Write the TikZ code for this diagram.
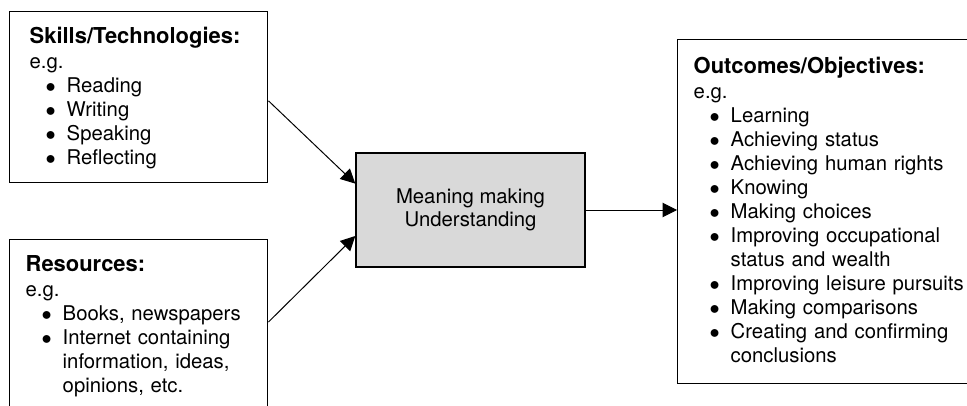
\documentclass[tikz,border=0pt]{standalone}
\usepackage{fontspec}
\setmainfont{TeX Gyre Heros}
\usepackage{tikz}
\usetikzlibrary{arrows.meta}

\definecolor{midgray}{RGB}{217,217,217}
\newcommand{\bitem}[1]{\hspace*{0.4cm}\makebox[0.525cm][l]{$\bullet$}#1}
\newcommand{\bwrap}[1]{\hspace*{0.925cm}#1}
\newcommand{\boxhead}[1]{{\fontsize{15.6}{17.07}\selectfont\bfseries #1}}

\begin{document}
\begin{tikzpicture}[
        x=0.025cm, y=-0.025cm,
        box/.style={
            rectangle,
            draw,
            line width=1pt,
            anchor=north west,
            align=left,
            inner xsep=0.4cm,
            inner ysep=0.4cm,
            text height=0.4cm,
            font=\fontsize{14.44}{17.07}\selectfont
        },
        midbox/.style={
            rectangle,
            draw,
            line width=1pt,
            fill=midgray,
            minimum width=5.725cm,
            minimum height=2.85cm,
            align=center,
            font=\fontsize{14.44}{16.4}\selectfont
        },
        arrow/.style={
            -{Triangle[length=3.6mm,width=3.6mm]},
            line width=0.7pt
        }
    ]

    \useasboundingbox (0,0) rectangle (967,406);
    \clip (0,0) rectangle (967,406);

    % Nodes
    \node[box, inner xsep=0.5cm, text width=5.45cm, text depth=3.075cm] (skills) at (9,11)
        {\boxhead{Skills/Technologies:}\\[0.7pt]
         e.g.\\
         \bitem{Reading}\\
         \bitem{Writing}\\
         \bitem{Speaking}\\
         \bitem{Reflecting}};
    \node[box, text width=5.65cm, text depth=3.575cm] (resources) at (9,239)
        {\boxhead{Resources:}\\[0.7pt]
         e.g.\\
         \bitem{Books, newspapers}\\
         \bitem{Internet containing}\\
         \bwrap{information, ideas,}\\
         \bwrap{opinions, etc.}};
    \node[midbox] (meaning) at (470.5,210) {Meaning making\\Understanding};
    \node[box, text width=7cm, text height=0.45cm, text depth=7.35cm] (outcomes) at (677,39)
        {\boxhead{Outcomes/Objectives:}\\[0.7pt]
         e.g.\\
         \bitem{Learning}\\
         \bitem{Achieving status}\\
         \bitem{Achieving human rights}\\
         \bitem{Knowing}\\
         \bitem{Making choices}\\
         \bitem{Improving occupational}\\
         \bwrap{status and wealth}\\
         \bitem{Improving leisure pursuits}\\
         \bitem{Making comparisons}\\
         \bitem{Creating and confirming}\\
         \bwrap{conclusions}};

    % Arrows
    \draw[arrow] ([yshift=-0.09cm]skills.east) -- ([yshift=0.66cm]meaning.west);
    \draw[arrow] ([yshift=-2.075cm]resources.north east) -- ([yshift=-0.65cm]meaning.west);
    \draw[arrow] (meaning.east) -- (meaning.east -| outcomes.west);

\end{tikzpicture}
\end{document}
